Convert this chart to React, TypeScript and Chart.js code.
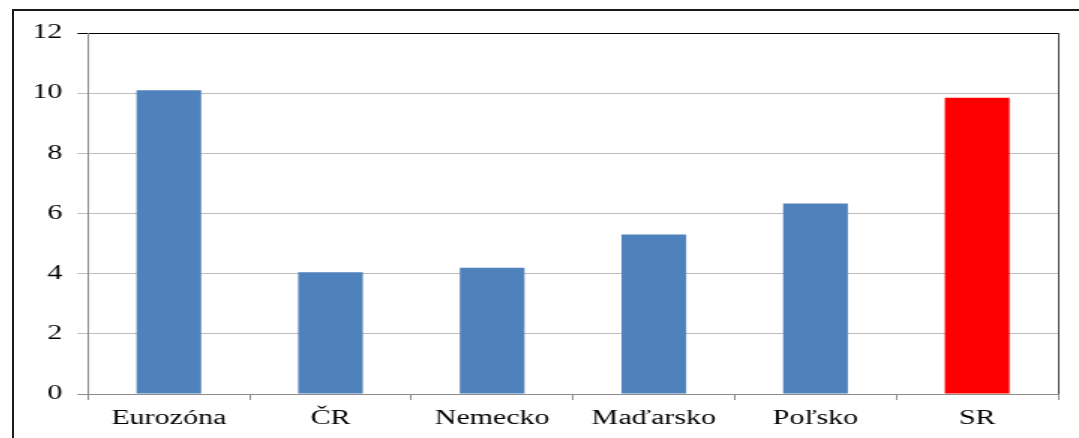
import React, { useEffect, useRef } from "react";
import { Chart, registerables } from "chart.js";

Chart.register(...registerables);

const categories = ["Eurozóna", "ČR", "Nemecko", "Maďarsko", "Poľsko", "SR"];
const values = [10.1, 4.05, 4.2, 5.3, 6.33, 9.85];
const barColors = ["#4F81BD", "#4F81BD", "#4F81BD", "#4F81BD", "#4F81BD", "#FF0000"];
const yMin = 0;
const yMax = 12;
const yStep = 2;

// horizontal stretch of the original picture
const STRETCH = 1.5;
const CSS_W = 1065;
const CSS_H = 427;

export default function App() {
  const ref = useRef<HTMLCanvasElement | null>(null);

  useEffect(() => {
    if (!ref.current) return;
    const font = { family: "'Liberation Serif', 'Times New Roman', serif", size: 20 };
    const chart = new Chart(ref.current, {
      type: "bar",
      data: {
        labels: categories,
        datasets: [
          {
            data: values,
            backgroundColor: barColors,
            borderWidth: 0,
            barPercentage: 0.4,
            categoryPercentage: 1,
          },
        ],
      },
      options: {
        responsive: false,
        animation: false,
        devicePixelRatio: 1,
        layout: { padding: { top: 21, right: 14, bottom: 0, left: 0 } },
        plugins: { legend: { display: false }, tooltip: { enabled: false } },
        scales: {
          x: {
            grid: {
              offset: true,
              drawOnChartArea: true,
              tickLength: 6,
              color: (ctx: any) =>
                ctx.type === "scale" ? "#3a3a3a" : ctx.index === 0 ? "#8c8c8c" : "rgba(0,0,0,0)",
              tickColor: "#8c8c8c",
              lineWidth: 1,
            },
            border: { display: true, color: "#8c8c8c", width: 1 },
            ticks: { color: "#000", font, padding: 7, maxRotation: 0, autoSkip: false },
            afterFit: (scale: any) => {
              scale.height = 44;
            },
          },
          y: {
            min: yMin,
            max: yMax,
            ticks: { stepSize: yStep, color: "#000", font, padding: 10 },
            grid: {
              tickLength: 7,
              color: (ctx: any) =>
                ctx.tick && ctx.tick.value === yMax
                  ? "#000000"
                  : ctx.tick && ctx.tick.value === yMin
                  ? "#8c8c8c"
                  : "#bdbdbd",
              lineWidth: 1,
            },
            border: { display: true, color: "#8c8c8c", width: 1 },
            afterFit: (scale: any) => {
              scale.width = (88 - 14) / STRETCH;
            },
          },
        },
      },
    });
    return () => chart.destroy();
  }, []);

  return (
    <div
      style={{
        position: "absolute",
        left: 12,
        top: 9,
        width: 1067,
        height: 429,
        boxSizing: "border-box",
        borderTop: "2px solid #1a1a1a",
        borderLeft: "2px solid #1a1a1a",
        overflow: "hidden",
        background: "#fff",
      }}
    >
      <canvas
        ref={ref}
        width={Math.round(CSS_W / STRETCH)}
        height={CSS_H}
        style={{ width: CSS_W, height: CSS_H, display: "block" }}
      />
    </div>
  );
}
